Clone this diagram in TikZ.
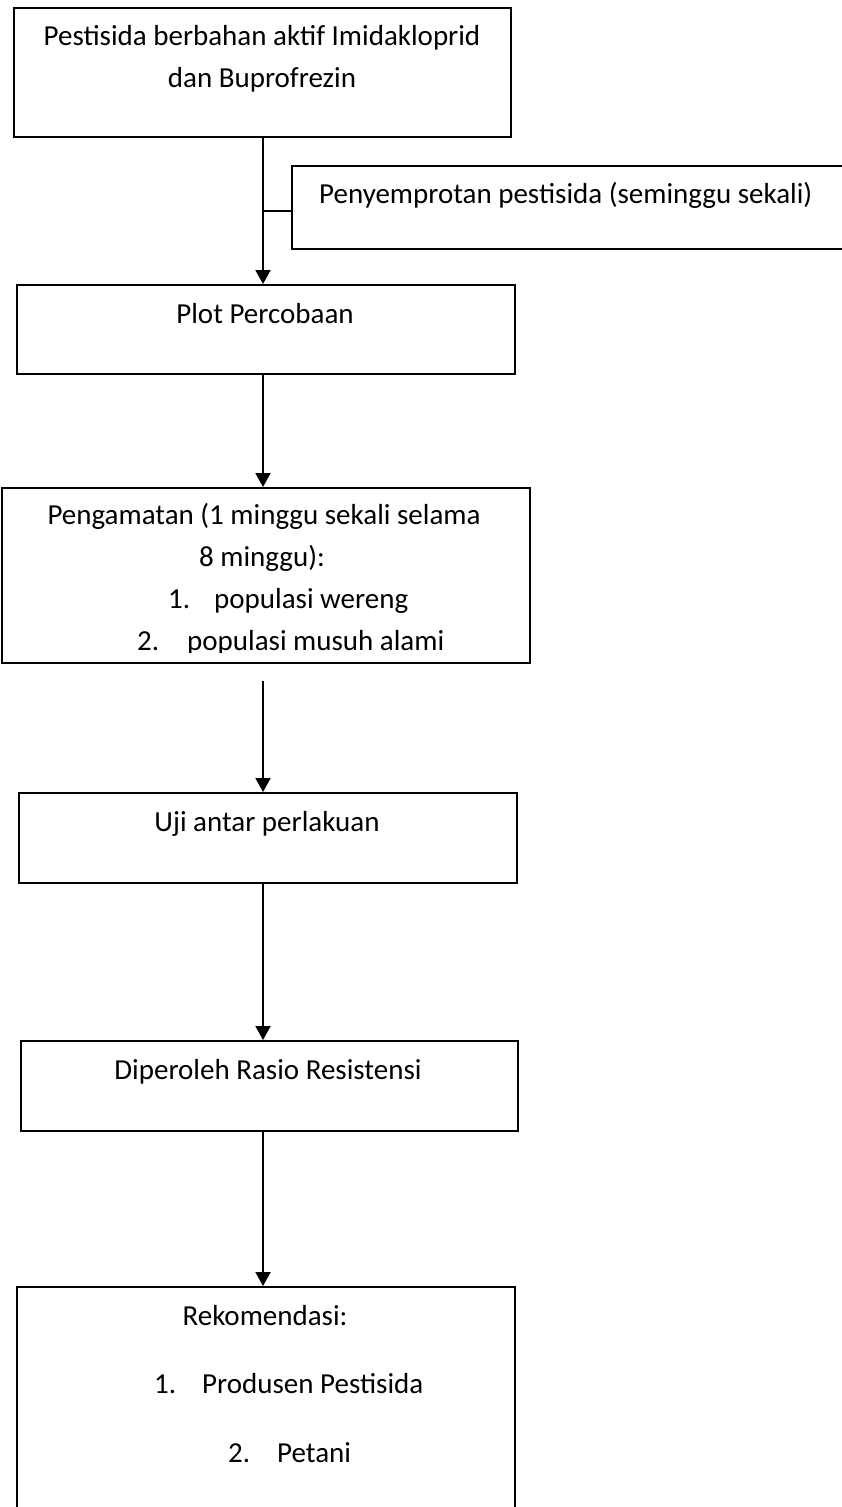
\documentclass[tikz,border=0pt]{standalone}
\usepackage{fontspec}
\setmainfont{Carlito}
\usetikzlibrary{arrows.meta}
\begin{document}
\begin{tikzpicture}[x=1pt,y=1pt,
  box/.style={draw, line width=2pt, inner sep=0pt, anchor=north west},
  txt/.style={inner sep=0pt, anchor=base, font=\fontsize{29}{42}\selectfont},
  ltxt/.style={inner sep=0pt, anchor=base west, font=\fontsize{29}{42}\selectfont},
  arr/.style={line width=2pt, -{Triangle[length=14pt,width=15pt]}},
  link/.style={line width=2pt}]
\useasboundingbox (0,0) rectangle (842,-1507);
\clip (0,0) rectangle (842,-1507);
\fill[white] (0,0) rectangle (842,-1507);

% boxes
\node[box, minimum width=497pt, minimum height=129pt] (b1) at (13,-7) {};
\node[box, minimum width=580pt, minimum height=83pt] (side) at (291,-165) {};
\node[box, minimum width=498pt, minimum height=89pt] (b2) at (16,-284) {};
\node[box, minimum width=528pt, minimum height=175pt] (b3) at (1,-487) {};
\node[box, minimum width=498pt, minimum height=90pt] (b4) at (18,-792) {};
\node[box, minimum width=497pt, minimum height=90pt] (b5) at (20,-1040) {};
\node[box, minimum width=498pt, minimum height=260pt] (b6) at (16,-1286) {};

% texts
\node[txt] (t1a) at (262,-45) {Pestisida berbahan aktif Imidakloprid};
\node[txt] (t1b) at (262,-87) {dan Buprofrezin};
\node[ltxt] (ts) at (319,-203) {Penyemprotan pestisida (seminggu sekali)};
\node[txt] (t2) at (265,-323) {Plot Percobaan};
\node[txt] (t3a) at (264,-524) {Pengamatan (1 minggu sekali selama};
\node[txt] (t3b) at (262,-566) {8 minggu):};
\node[ltxt] (n31) at (168,-608) {1.};
\node[ltxt] (t3c) at (214,-608) {populasi wereng};
\begin{scope}
  \clip (0,-652) rectangle (842,-620);
  \node[ltxt] (n32) at (137,-650) {2.};
  \node[ltxt] (t3d) at (187,-650) {populasi musuh alami};
\end{scope}
\node[txt] (t4) at (267,-831) {Uji antar perlakuan};
\node[txt] (t5) at (268,-1079) {Diperoleh Rasio Resistensi};
\node[txt] (t6a) at (265,-1325) {Rekomendasi:};
\node[ltxt] (n61) at (154,-1393) {1.};
\node[ltxt] (t6b) at (202,-1393) {Produsen Pestisida};
\node[ltxt] (n62) at (228,-1462) {2.};
\node[ltxt] (t6c) at (277,-1462) {Petani};

% connectors
\coordinate (sp) at (263,0);
\coordinate (br) at (263,-211);
\coordinate (gs) at (263,-681);
\draw[arr] (b1.south -| sp) -- (b2.north -| sp);
\draw[link] (br) -- (br -| side.west);
\draw[arr] (b2.south -| sp) -- (b3.north -| sp);
\draw[arr] (gs) -- (b4.north -| sp);
\draw[arr] (b4.south -| sp) -- (b5.north -| sp);
\draw[arr] (b5.south -| sp) -- (b6.north -| sp);
\end{tikzpicture}
\end{document}
